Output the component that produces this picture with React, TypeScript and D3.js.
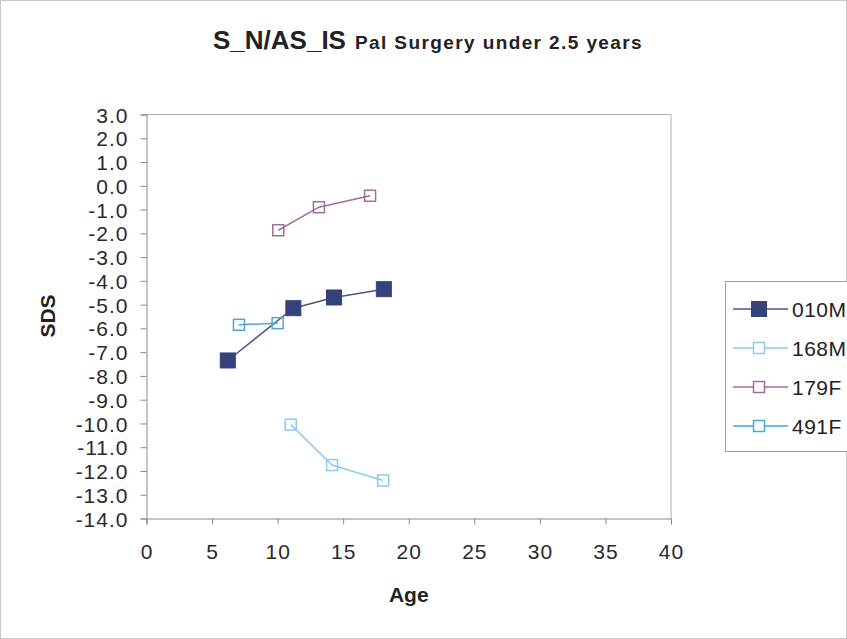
import React from 'react';
import { select, scaleLinear, axisLeft, axisBottom, line, range } from 'd3';

const width = 847;
const height = 639;

// series names and their points (age, SDS)
const seriesNames = ['010M', '168M', '179F', '491F'];
const ages010M = [6.2, 11.2, 14.3, 18.1];
const sds010M = [-7.35, -5.15, -4.7, -4.35];
const ages168M = [11.0, 14.15, 18.05];
const sds168M = [-10.05, -11.75, -12.4];
const ages179F = [10.05, 13.15, 17.05];
const sds179F = [-1.87, -0.9, -0.42];
const ages491F = [7.05, 10.0];
const sds491F = [-5.85, -5.78];

const xTicks = [0, 5, 10, 15, 20, 25, 30, 35, 40];
const yTicks = range(3, -15, -1);

const dims = {
    left: 146.5,
    right: 671,
    top: 114.5,
    bottom: 518.5,
};

const styles = [
    { color: '#485789', fill: '#35437a', size: 15, filled: true },
    { color: '#8ccbee', fill: 'none', size: 11, filled: false },
    { color: '#a26d9c', fill: 'none', size: 11, filled: false },
    { color: '#4ea6cf', fill: 'none', size: 11, filled: false },
];

const App: React.FC = () => {
    const ref = React.useRef<SVGSVGElement>(null);

    React.useEffect(() => {
        const svg = select(ref.current);
        svg.selectAll('*').remove();

        const data = [
            ages010M.map((a, i) => ({ x: a, y: sds010M[i] })),
            ages168M.map((a, i) => ({ x: a, y: sds168M[i] })),
            ages179F.map((a, i) => ({ x: a, y: sds179F[i] })),
            ages491F.map((a, i) => ({ x: a, y: sds491F[i] })),
        ];

        const x = scaleLinear().domain([0, 40]).range([dims.left, dims.right]);
        const y = scaleLinear().domain([3, -14]).range([dims.top, dims.bottom]);

        // outer frame
        svg.append('rect')
            .attr('x', 0.5).attr('y', 0.5)
            .attr('width', width - 1).attr('height', height - 1)
            .attr('fill', '#fff').attr('stroke', '#c8c8c8');

        // plot frame (top + right)
        svg.append('path')
            .attr('d', `M${dims.left},${dims.top}H${dims.right}V${dims.bottom}`)
            .attr('fill', 'none').attr('stroke', '#b0b0b0');

        const font = 'Arial, "Liberation Sans", sans-serif';

        const yAxis = svg.append('g')
            .attr('transform', `translate(${dims.left},0)`)
            .call(axisLeft(y).tickValues(yTicks).tickSize(6).tickPadding(12).tickFormat(d => (+d).toFixed(1)));
        const xAxis = svg.append('g')
            .attr('transform', `translate(0,${dims.bottom})`)
            .call(axisBottom(x).tickValues(xTicks).tickSize(6).tickPadding(20));

        [xAxis, yAxis].forEach(g => {
            g.select('.domain').attr('stroke', '#8a8a8a');
            g.selectAll('.tick line').attr('stroke', '#8a8a8a');
            g.selectAll('.tick text')
                .attr('font-family', font)
                .attr('font-size', 21)
                .attr('letter-spacing', 1)
                .attr('fill', '#2a2a2a');
        });
        yAxis.selectAll('.tick text').attr('dy', '0.36em');

        // series
        const ln = line<{ x: number; y: number }>().x(d => x(d.x)).y(d => y(d.y));
        data.forEach((pts, i) => {
            const s = styles[i];
            const g = svg.append('g');
            g.append('path').attr('d', ln(pts)).attr('fill', 'none')
                .attr('stroke', s.color).attr('stroke-width', 1.5);
            g.selectAll('rect').data(pts).enter().append('rect')
                .attr('x', d => x(d.x) - s.size / 2)
                .attr('y', d => y(d.y) - s.size / 2)
                .attr('width', s.size).attr('height', s.size)
                .attr('fill', s.filled ? s.fill : '#fff')
                .attr('fill-opacity', s.filled ? 1 : 0)
                .attr('stroke', s.filled ? s.fill : s.color)
                .attr('stroke-width', s.filled ? 1 : 1.5);
        });

        // title
        const title = svg.append('text')
            .attr('x', 213).attr('y', 49)
            .attr('font-family', font).attr('font-weight', 'bold').attr('fill', '#222');
        title.append('tspan').attr('font-size', 26).text('S_N/AS_IS');
        title.append('tspan').attr('font-size', 19).attr('dx', 9)
            .attr('letter-spacing', 1.4).text('Pal Surgery under 2.5 years');

        // axis titles
        svg.append('text')
            .attr('x', (dims.left + dims.right) / 2).attr('y', 602)
            .attr('text-anchor', 'middle')
            .attr('font-family', font).attr('font-weight', 'bold').attr('font-size', 21)
            .attr('fill', '#222').text('Age');
        svg.append('text')
            .attr('transform', 'translate(55,316) rotate(-90)')
            .attr('text-anchor', 'middle')
            .attr('font-family', font).attr('font-weight', 'bold').attr('font-size', 21)
            .attr('fill', '#222').text('SDS');

        // legend
        const leg = svg.append('g');
        leg.append('rect')
            .attr('x', 725.5).attr('y', 281.5).attr('width', 140).attr('height', 170)
            .attr('fill', '#fff').attr('stroke', '#a0a0a0');
        seriesNames.forEach((name, i) => {
            const s = styles[i];
            const cy = 309 + i * 39;
            leg.append('line').attr('x1', 733).attr('x2', 788).attr('y1', cy).attr('y2', cy)
                .attr('stroke', s.color).attr('stroke-width', 1.5);
            leg.append('rect')
                .attr('x', 759 - s.size / 2).attr('y', cy - s.size / 2)
                .attr('width', s.size).attr('height', s.size)
                .attr('fill', s.filled ? s.fill : '#fff')
                .attr('stroke', s.filled ? s.fill : s.color)
                .attr('stroke-width', s.filled ? 1 : 1.5);
            leg.append('text').attr('x', 792).attr('y', cy + 7.5)
                .attr('font-family', font).attr('font-size', 21).attr('letter-spacing', 0.5)
                .attr('fill', '#222')
                .text(name);
        });
    }, []);

    return (
        <div>
            <style>{'body{margin:0}'}</style>
            <svg ref={ref} width={width} height={height} style={{ display: 'block' }} />
        </div>
    );
};

export default App;
